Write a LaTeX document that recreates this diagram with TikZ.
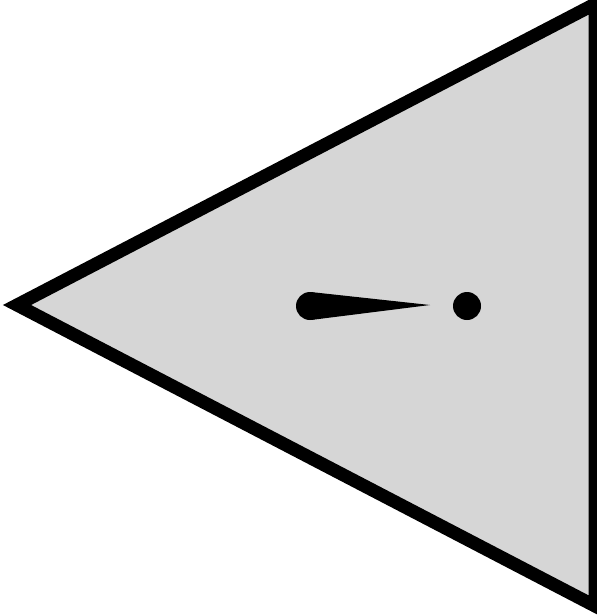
\documentclass[tikz,border=0pt]{standalone}
\begin{document}
\begin{tikzpicture}[x=1pt,y=-1pt]
\definecolor{fillgray}{HTML}{D6D6D6}
\useasboundingbox (0,0) rectangle (597,616);
\clip (0,0) rectangle (597,616);
\draw[line width=13pt, fill=fillgray, line join=miter, miter limit=20]
  (17,305) -- (595,4) -- (595,606) -- cycle;
\fill (310,306) circle (14);
\fill (430,305) -- (311.6,292.1) -- (311.6,319.9) -- cycle;
\fill (467,306) circle (14);
\end{tikzpicture}
\end{document}
